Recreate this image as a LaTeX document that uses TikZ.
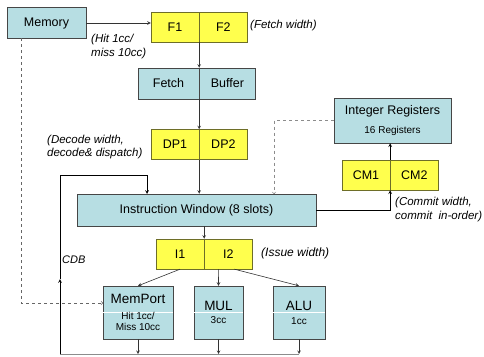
\documentclass[tikz,border=0pt]{standalone}
\usepackage{fontspec}
\setmainfont{Liberation Sans}
\usetikzlibrary{arrows,positioning}

\definecolor{unitblue}{RGB}{183,222,227}
\definecolor{stageyellow}{RGB}{255,255,77}
\definecolor{edgegray}{RGB}{70,70,70}
\definecolor{edgeolive}{RGB}{110,110,40}

\begin{document}
\begin{tikzpicture}[
    x=1pt, y=-1pt,
    unit/.style={rectangle, draw=edgegray, fill=unitblue, inner sep=0pt, align=center, font=\fontsize{12.5}{15}\selectfont},
    stage/.style={rectangle, draw=edgeolive, fill=stageyellow, inner sep=0pt, minimum width=48pt, minimum height=30pt, font=\fontsize{12.5}{15}\selectfont},
    fubox/.style={rectangle, draw=edgegray, fill=unitblue, minimum height=53pt},
    futitle/.style={inner sep=0pt, font=\fontsize{13.5}{16}\selectfont},
    fusub/.style={inner sep=0pt, align=center, font=\fontsize{10}{11}\selectfont},
    note/.style={inner sep=0pt, anchor=west, align=left, font=\fontsize{11.5}{14}\selectfont\itshape},
    arrow/.style={->, >=stealth, line width=0.6pt, draw=black!80},
    loop/.style={->, >=stealth, line width=0.7pt, draw=black},
    bus/.style={line width=0.8pt, draw=black!45},
    dasharrow/.style={->, >=to, dashed, line width=0.6pt, draw=black!60}
]
\useasboundingbox (0,0) rectangle (484,356);

% Memory
\node[unit, minimum width=79pt, minimum height=31pt] (memory) at (46.5,23) {Memory};

% Fetch stages
\node[stage] (f1) at (175,27) {F1};
\node[stage, right=0pt of f1] (f2) {F2};
\node[note] (fetchnote) at (250,26) {(Fetch width)};
\node[note] (hitnote) at (91,47) {(Hit 1cc/\\miss 10cc)};

% Fetch buffer
\node[unit, minimum width=61pt, minimum height=31pt] (fetch) at (168.5,83.5) {Fetch};
\node[unit, minimum width=56pt, minimum height=31pt, right=0pt of fetch] (buffer) {Buffer};

% Decode / dispatch stages
\node[stage] (dp1) at (175,144.5) {DP1};
\node[stage, right=0pt of dp1] (dp2) {DP2};
\node[note, font=\fontsize{11.5}{13}\selectfont\itshape] (decodenote) at (47,147) {(Decode width,\\decode\& dispatch)};

% Integer registers and commit stages
\node[unit, minimum width=117pt, minimum height=45pt] (intreg) at (392.5,120.5) {Integer Registers\\[4pt]{\fontsize{10}{12}\selectfont 16 Registers}};
\node[stage] (cm1) at (366,175) {CM1};
\node[stage, right=0pt of cm1] (cm2) {CM2};
\node[note] (commitnote) at (395,210) {(Commit width,\\commit~ in-order)};

% Instruction window
\node[unit, minimum width=239pt, minimum height=32pt] (window) at (196.5,210) {Instruction Window (8 slots)};

% Issue stages
\node[stage] (i1) at (180,254) {I1};
\node[stage, right=0pt of i1] (i2) {I2};
\node[note, font=\fontsize{12}{14}\selectfont\itshape] (issuenote) at (261,253) {(Issue width)};

% Functional units
\node[fubox, minimum width=70pt] (memport) at (138,312.5) {};
\node[fubox, minimum width=49pt] (mul) at (218.5,312.5) {};
\node[fubox, minimum width=52pt] (alu) at (299,312.5) {};
\foreach \fu in {memport,mul,alu}
    \draw[white, line width=0.8pt] ([yshift=0.5pt]\fu.west) -- ([yshift=0.5pt]\fu.east);
\node[futitle] (memporttitle) at (138,299) {MemPort};
\node[fusub] (memportsub) at (138,321) {Hit 1cc/\\Miss 10cc};
\node[futitle] (multitle) at (218.5,306) {MUL};
\node[fusub] (mulsub) at (218.5,320) {3cc};
\node[futitle] (alutitle) at (299,306) {ALU};
\node[fusub] (alusub) at (299,321) {1cc};

% CDB
\coordinate (busleft) at (60,354);
\coordinate (cdbmid) at (60,279);
\coordinate (looptop) at (60,175);
\coordinate (winleft) at (147,194);
\node[note, font=\fontsize{11}{13}\selectfont\itshape] (cdbnote) at (62,260) {CDB};

% Helper points for dashed paths
\coordinate (memdrop) at (21,38);
\coordinate (memin) at (103,303);
\coordinate (winreg) at (274,194);

% Arrows
\draw[arrow] (memory.east) -- (memory.east -| f1.west);
\draw[arrow] (f1.south east) -- (fetch.north east);
\draw[arrow] (fetch.south east) -- (dp1.north east);
\draw[arrow] (dp1.south east) -- (dp1.south east |- window.north);
\draw[arrow] (window.south -| i1.south east) -- (i1.north east);
\draw[arrow] (i1.south) -- (memport.north);
\draw[arrow] ([xshift=-10pt]i2.south) -- (mul.north);
\draw[arrow] ([xshift=6pt]i2.south) -- (alu.north);
\draw[bus] (busleft) -- (alu.south |- busleft);
\foreach \fu in {memport,mul,alu}
    \draw[arrow] (\fu.south) -- (\fu.south |- busleft);
\draw[loop] (busleft) -- (cdbmid);
\draw[loop] (cdbmid) -- (looptop) -| (winleft);
\draw[loop] (window.east) -| (cm1.south east);
\draw[loop] (cm1.north east) -- (cm1.north east |- intreg.south);
\draw[dasharrow, draw=black!45] (intreg.west) -| (winreg);
\draw[dasharrow] (memdrop) |- (memin);

\end{tikzpicture}
\end{document}
